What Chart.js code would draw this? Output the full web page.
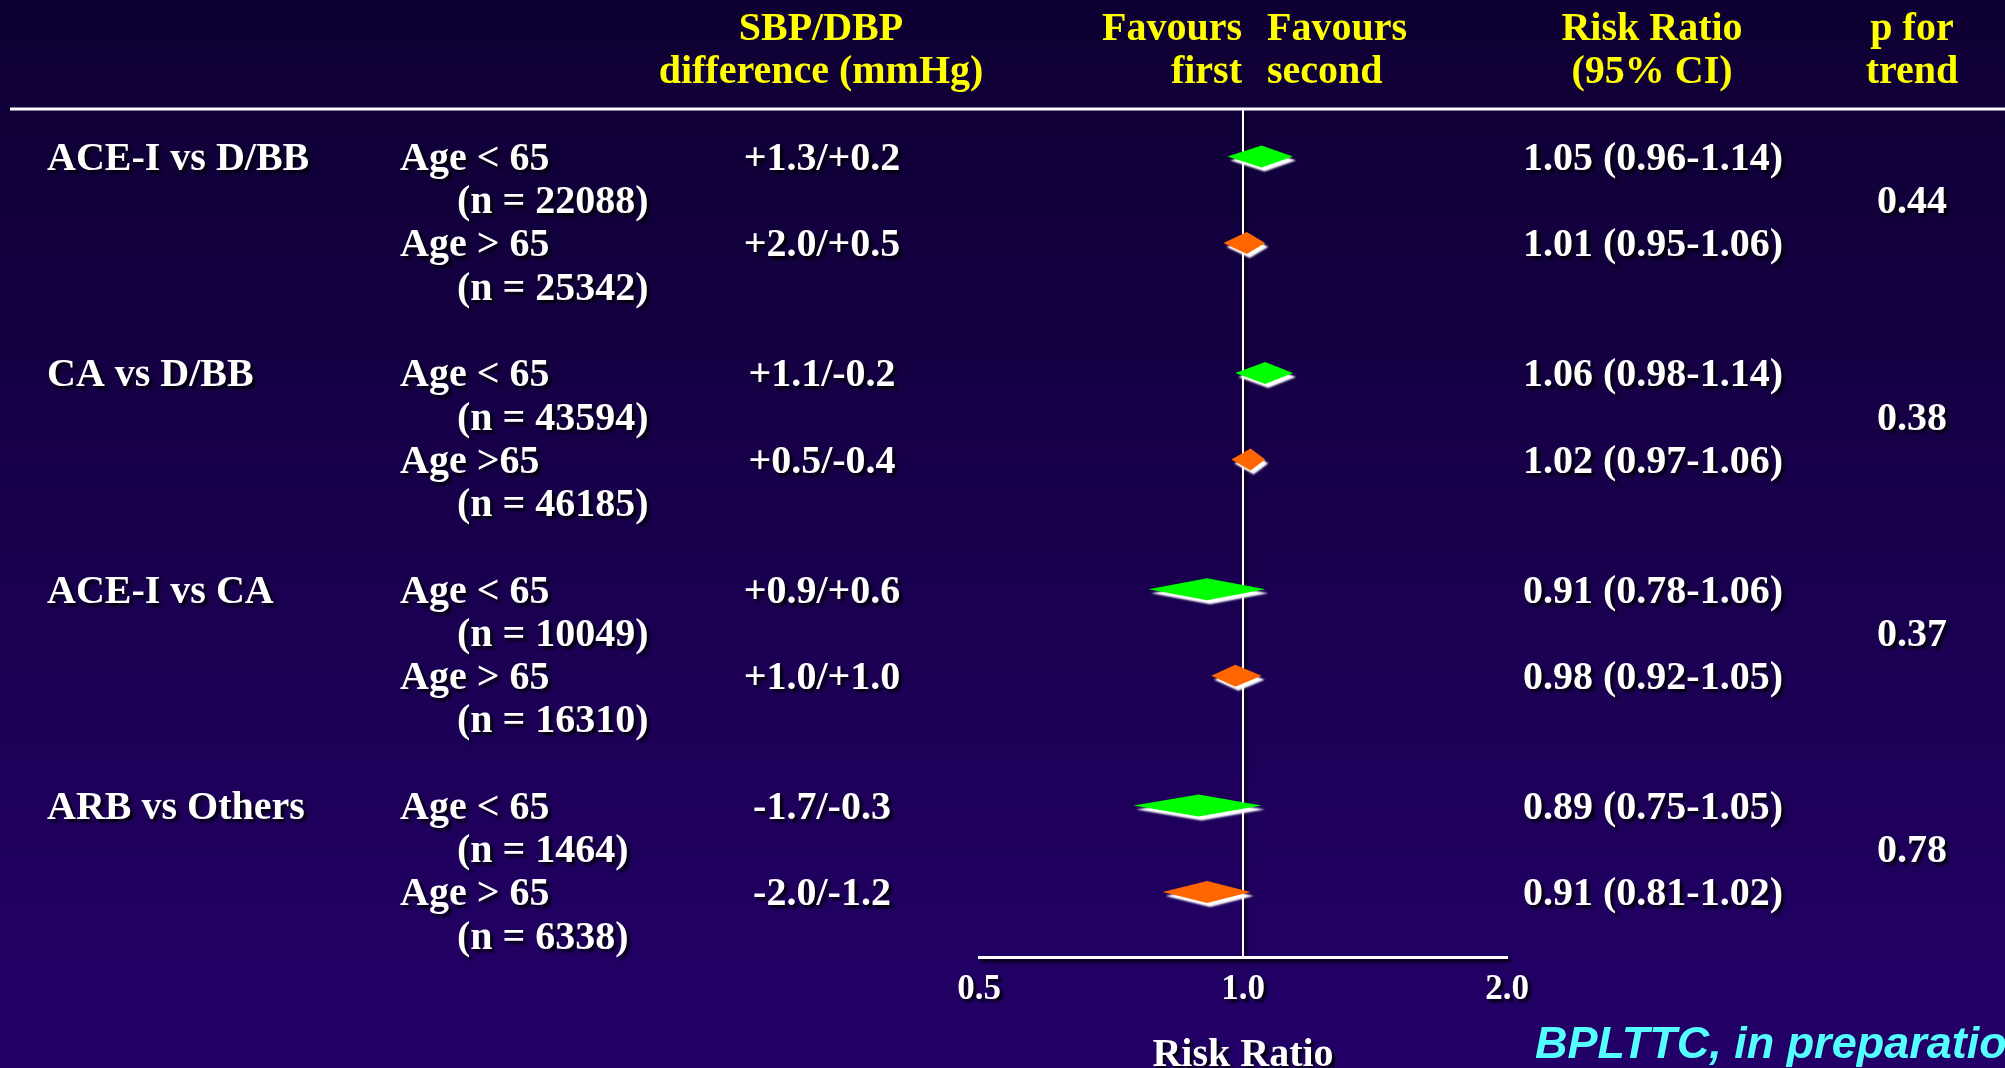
<!DOCTYPE html>
<html>
<head>
<meta charset="utf-8">
<title>Risk ratio by age group</title>
<script src="https://cdn.jsdelivr.net/npm/chart.js@4/dist/chart.umd.min.js"></script>
<style>
  html, body { margin: 0; padding: 0; background: #180048; overflow: hidden; }
  #wrap { width: 2005px; height: 1068px; }
</style>
</head>
<body>
<div id="wrap"><canvas id="forest" width="2005" height="1068"></canvas></div>
<script>
// Comparisons and subgroups
const groupLabels = ['ACE-I vs D/BB', 'CA vs D/BB', 'ACE-I vs CA', 'ARB vs Others'];
const subgroupLabels = ['Age < 65', 'Age > 65', 'Age < 65', 'Age >65', 'Age < 65', 'Age > 65', 'Age < 65', 'Age > 65'];
const sampleSizes = ['(n = 22088)', '(n = 25342)', '(n = 43594)', '(n = 46185)', '(n = 10049)', '(n = 16310)', '(n = 1464)', '(n = 6338)'];
const bpDifferences = ['+1.3/+0.2', '+2.0/+0.5', '+1.1/-0.2', '+0.5/-0.4', '+0.9/+0.6', '+1.0/+1.0', '-1.7/-0.3', '-2.0/-1.2'];

// Risk ratios with 95% confidence limits
const riskRatio = [1.05, 1.01, 1.06, 1.02, 0.91, 0.98, 0.89, 0.91];
const ciLower   = [0.96, 0.95, 0.98, 0.97, 0.78, 0.92, 0.75, 0.81];
const ciUpper   = [1.14, 1.06, 1.14, 1.06, 1.06, 1.05, 1.05, 1.02];
const trendP = ['0.44', '0.38', '0.37', '0.78'];

// Row slots (in text lines) for each subgroup, and the axis ticks
const rowSlots = [0, 2, 5, 7, 10, 12, 15, 17];
const xTicks = [0.5, 1, 2];
const xTickLabels = ['0.5', '1.0', '2.0'];

const SERIF = '"Liberation Serif", "Times New Roman", serif';
const TEXT_FONT = 'bold 40px ' + SERIF;
const YELLOW = '#ffff00';
const YOUNG = '#00ff00';
const OLD = '#ff6600';
const TEXT_NUDGE = 3; // optical centring of caps on a 'middle' baseline

function textShadow(ctx) {
  ctx.shadowColor = 'rgba(0,0,0,0.9)';
  ctx.shadowOffsetX = 3;
  ctx.shadowOffsetY = 3;
  ctx.shadowBlur = 3;
}
function noShadow(ctx) {
  ctx.shadowColor = 'rgba(0,0,0,0)';
  ctx.shadowOffsetX = 0;
  ctx.shadowOffsetY = 0;
  ctx.shadowBlur = 0;
}

const backdrop = {
  id: 'backdrop',
  beforeDraw(chart) {
    const {ctx, width, height} = chart;
    ctx.save();
    const g = ctx.createLinearGradient(0, 0, 0, height);
    g.addColorStop(0, '#0e0032');
    g.addColorStop(1, '#230068');
    ctx.fillStyle = g;
    ctx.fillRect(0, 0, width, height);
    ctx.restore();
    // scale labels carry the same drop shadow as the table text
    textShadow(ctx);
  },
  beforeDatasetsDraw(chart) { noShadow(chart.ctx); }
};

const diamonds = {
  id: 'diamonds',
  afterDatasetsDraw(chart) {
    const {ctx, scales: {x, y}} = chart;
    const half = 11;
    ctx.save();
    chart.data.datasets[0].data.forEach((p) => {
      const xl = x.getPixelForValue(p.lo);
      const xm = x.getPixelForValue(p.x);
      const xh = x.getPixelForValue(p.hi);
      const ym = y.getPixelForValue(p.y);
      ctx.beginPath();
      ctx.moveTo(xl, ym);
      ctx.lineTo(xm, ym - half);
      ctx.lineTo(xh, ym);
      ctx.lineTo(xm, ym + half);
      ctx.closePath();
      ctx.shadowColor = '#ffffff';
      ctx.shadowOffsetX = 3;
      ctx.shadowOffsetY = 4;
      ctx.shadowBlur = 2;
      ctx.fillStyle = p.young ? YOUNG : OLD;
      ctx.fill();
    });
    ctx.restore();
  }
};

const table = {
  id: 'table',
  afterDraw(chart) {
    const {ctx, scales: {y}} = chart;
    ctx.save();
    noShadow(ctx);

    // header rule across the page
    ctx.strokeStyle = '#ffffff';
    ctx.lineWidth = 3;
    ctx.beginPath();
    ctx.moveTo(10, chart.chartArea.top);
    ctx.lineTo(2005, chart.chartArea.top);
    ctx.stroke();

    // column headings
    ctx.font = TEXT_FONT;
    ctx.fillStyle = YELLOW;
    ctx.textBaseline = 'middle';
    const put = (t, xx, yy, align) => { ctx.textAlign = align; ctx.fillText(t, xx, yy + TEXT_NUDGE); };
    put('SBP/DBP', 821, 27, 'center');
    put('difference (mmHg)', 821, 70, 'center');
    put('Favours', 1242, 27, 'right');
    put('first', 1242, 70, 'right');
    put('Favours', 1267, 27, 'left');
    put('second', 1267, 70, 'left');
    put('Risk Ratio', 1652, 27, 'center');
    put('(95% CI)', 1652, 70, 'center');
    put('p for', 1912, 27, 'center');
    put('trend', 1912, 70, 'center');

    // body rows
    textShadow(ctx);
    ctx.fillStyle = '#ffffff';
    groupLabels.forEach((g, k) => {
      const slot = rowSlots[k * 2];
      put(g, 47, y.getPixelForValue(slot), 'left');
      put(trendP[k], 1912, y.getPixelForValue(slot + 1), 'center');
    });
    subgroupLabels.forEach((s, i) => {
      const yy = y.getPixelForValue(rowSlots[i]);
      put(s, 400, yy, 'left');
      put(sampleSizes[i], 457, y.getPixelForValue(rowSlots[i] + 1), 'left');
      put(bpDifferences[i], 822, yy, 'center');
      const rr = riskRatio[i].toFixed(2) + ' (' + ciLower[i].toFixed(2) + '-' + ciUpper[i].toFixed(2) + ')';
      put(rr, 1523, yy, 'left');
    });

    // source note
    noShadow(ctx);
    ctx.font = 'italic bold 45px "Liberation Sans", Arial, sans-serif';
    ctx.fillStyle = '#55ffff';
    put('BPLTTC, in preparation', 1535, 1043, 'left');
    ctx.restore();
  }
};

const points = riskRatio.map((v, i) => ({
  x: v, lo: ciLower[i], hi: ciUpper[i], y: rowSlots[i], young: i % 2 === 0
}));

new Chart(document.getElementById('forest'), {
  type: 'scatter',
  data: { datasets: [{ data: points, pointRadius: 0, pointHoverRadius: 0, showLine: false }] },
  options: {
    responsive: false,
    animation: false,
    devicePixelRatio: 1,
    events: [],
    layout: { padding: { left: 979, right: 498, top: 109, bottom: 0 } },
    plugins: { legend: { display: false }, tooltip: { enabled: false } },
    scales: {
      x: {
        type: 'logarithmic',
        position: 'bottom',
        min: 0.5,
        max: 2,
        afterBuildTicks(axis) { axis.ticks = xTicks.map(v => ({ value: v })); },
        afterFit(axis) { axis.height = 111; },
        ticks: {
          color: '#ffffff',
          font: { family: SERIF, size: 35, weight: 'bold', lineHeight: 1.2 },
          padding: 12,
          maxRotation: 0,
          autoSkip: false,
          callback: (v) => xTickLabels[xTicks.indexOf(v)]
        },
        grid: {
          drawTicks: false,
          lineWidth: 2,
          color: (c) => (c.tick && c.tick.value === 1 ? '#ffffff' : 'rgba(0,0,0,0)')
        },
        border: { display: true, color: '#ffffff', width: 3 },
        title: {
          display: true,
          text: 'Risk Ratio',
          color: '#ffffff',
          font: { family: SERIF, size: 40, weight: 'bold', lineHeight: 0.6 },
          padding: { top: 0, bottom: 0 }
        }
      },
      y: {
        type: 'linear',
        display: false,
        reverse: true,
        min: -1.1,
        max: 18.5
      }
    }
  },
  plugins: [backdrop, diamonds, table]
});
</script>
</body>
</html>
